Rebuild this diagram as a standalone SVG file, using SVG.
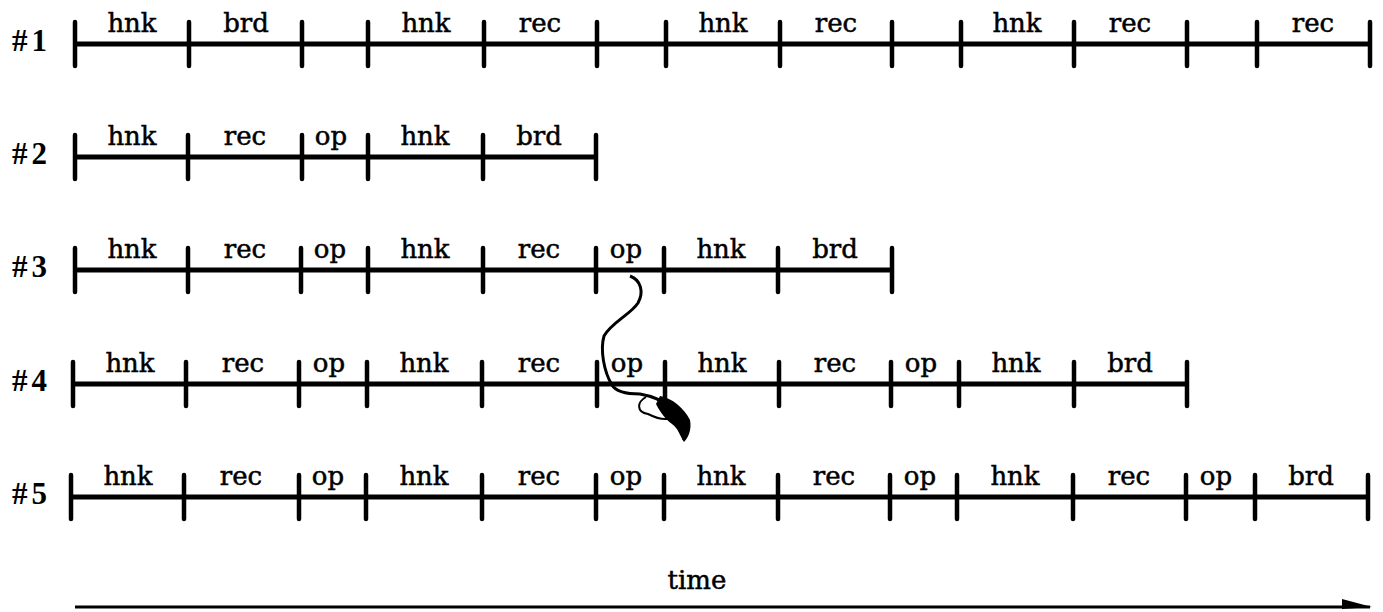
<svg xmlns="http://www.w3.org/2000/svg" width="1383" height="612" viewBox="0 0 1383 612">
<style>
.bar{stroke:#000;stroke-width:5;fill:none}
.tk{stroke:#000;stroke-width:4.5;stroke-linecap:round;fill:none}
.lb{font-family:"DejaVu Serif","Liberation Serif",serif;font-size:26px;fill:#000;stroke:#000;stroke-width:0.5;text-anchor:middle}
.rn{font-family:"Liberation Serif","DejaVu Serif",serif;font-size:31px;font-weight:bold;fill:#000;letter-spacing:4px}
.ax{stroke:#000;stroke-width:3;fill:none}
</style>
<defs>
<marker id="ah" viewBox="0 0 30 14" refX="28" refY="8" markerWidth="30" markerHeight="14" markerUnits="userSpaceOnUse" orient="auto">
<path d="M0,0 L30,8 L0,10 Z" fill="#000"/>
</marker>
</defs>

<g id="row1">
<text class="rn" x="12" y="51">#1</text>
<path class="bar" d="M75,44 H1370"/>
<path class="tk" d="M75,22V66M189,22V66M302,22V66M368,22V66M484,22V66M597,22V66M666,22V66M780,22V66M892,22V66M961,22V66M1074,22V66M1187,22V66M1257,22V66M1370,22V66"/>
<text class="lb" x="132" y="32">hnk</text>
<text class="lb" x="246" y="32">brd</text>
<text class="lb" x="426" y="32">hnk</text>
<text class="lb" x="540" y="32">rec</text>
<text class="lb" x="723" y="32">hnk</text>
<text class="lb" x="836" y="32">rec</text>
<text class="lb" x="1017" y="32">hnk</text>
<text class="lb" x="1130" y="32">rec</text>
<text class="lb" x="1313" y="32">rec</text>
</g>

<g id="row2">
<text class="rn" x="12" y="164">#2</text>
<path class="bar" d="M75,157 H596"/>
<path class="tk" d="M75,135V179M188,135V179M302,135V179M368,135V179M483,135V179M596,135V179"/>
<text class="lb" x="132" y="145">hnk</text>
<text class="lb" x="245" y="145">rec</text>
<text class="lb" x="331" y="145">op</text>
<text class="lb" x="425" y="145">hnk</text>
<text class="lb" x="539" y="145">brd</text>
</g>

<g id="row3">
<text class="rn" x="12" y="277">#3</text>
<path class="bar" d="M75,270 H892"/>
<path class="tk" d="M75,248V292M188,248V292M301,248V292M368,248V292M483,248V292M596,248V292M664,248V292M778,248V292M892,248V292"/>
<text class="lb" x="132" y="258">hnk</text>
<text class="lb" x="245" y="258">rec</text>
<text class="lb" x="330" y="258">op</text>
<text class="lb" x="425" y="258">hnk</text>
<text class="lb" x="539" y="258">rec</text>
<text class="lb" x="626" y="258">op</text>
<text class="lb" x="721" y="258">hnk</text>
<text class="lb" x="835" y="258">brd</text>
</g>

<g id="row4">
<text class="rn" x="12" y="391">#4</text>
<path class="bar" d="M73,384 H1187"/>
<path class="tk" d="M73,362V406M186,362V406M299,362V406M367,362V406M482,362V406M597,362V406M665,362V406M779,362V406M891,362V406M959,362V406M1074,362V406M1187,362V406"/>
<text class="lb" x="130" y="372">hnk</text>
<text class="lb" x="243" y="372">rec</text>
<text class="lb" x="329" y="372">op</text>
<text class="lb" x="424" y="372">hnk</text>
<text class="lb" x="539" y="372">rec</text>
<text class="lb" x="627" y="372">op</text>
<text class="lb" x="722" y="372">hnk</text>
<text class="lb" x="835" y="372">rec</text>
<text class="lb" x="921" y="372">op</text>
<text class="lb" x="1016" y="372">hnk</text>
<text class="lb" x="1130" y="372">brd</text>
</g>

<g id="row5">
<text class="rn" x="12" y="504">#5</text>
<path class="bar" d="M71,497 H1368"/>
<path class="tk" d="M71,475V519M184,475V519M299,475V519M366,475V519M482,475V519M596,475V519M664,475V519M778,475V519M890,475V519M957,475V519M1073,475V519M1186,475V519M1255,475V519M1368,475V519"/>
<text class="lb" x="128" y="485">hnk</text>
<text class="lb" x="241" y="485">rec</text>
<text class="lb" x="328" y="485">op</text>
<text class="lb" x="424" y="485">hnk</text>
<text class="lb" x="539" y="485">rec</text>
<text class="lb" x="626" y="485">op</text>
<text class="lb" x="721" y="485">hnk</text>
<text class="lb" x="834" y="485">rec</text>
<text class="lb" x="920" y="485">op</text>
<text class="lb" x="1015" y="485">hnk</text>
<text class="lb" x="1129" y="485">rec</text>
<text class="lb" x="1216" y="485">op</text>
<text class="lb" x="1311" y="485">brd</text>
</g>

<g id="connectors">
<path class="ax" d="M75,607 H1370" marker-end="url(#ah)"/>
</g>

<g id="time-label">
<text class="lb" x="697" y="589">time</text>
</g>

<g id="scan-mark">
<path d="M630,276 C641,280 644,292 638,303 C630,315 612,322 604,336 C600,350 604,372 612,385 C616,392 626,394 640,394 C652,396 662,400 672,408 C680,415 684,428 684,440" stroke="#000" stroke-width="3" fill="none"/>
<path d="M646,397 C637,402 636,412 648,414 C656,418 664,421 671,418" stroke="#000" stroke-width="2" fill="none"/>
<path d="M660,396 C672,398 684,408 690,420 C692,430 688,438 684,442 C680,436 678,428 672,424 C666,420 660,412 656,404 Z" fill="#000"/>
</g>
</svg>
